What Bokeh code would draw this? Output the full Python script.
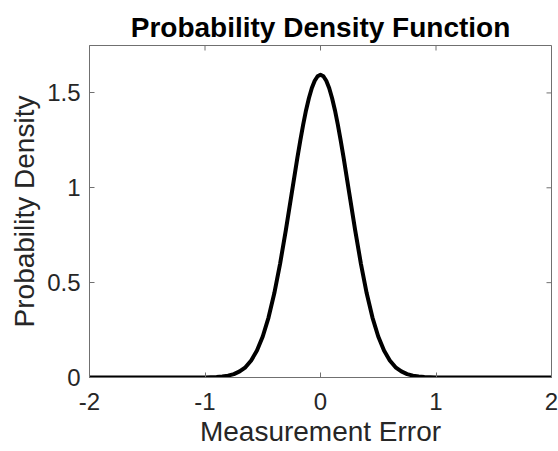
from bokeh.plotting import figure
from bokeh.models import FixedTicker, Range1d
from bokeh.embed import file_html
from bokeh.resources import INLINE

# Data
x_pos = [0.000, 0.025, 0.050, 0.075, 0.100, 0.125, 0.150, 0.175, 0.200, 0.25,
         0.30, 0.35, 0.40, 0.45, 0.50, 0.55, 0.60, 0.65, 0.70, 0.75, 0.80,
         0.85, 0.90, 0.95, 1.00, 1.10, 1.20, 2.00]
y_pos = [1.596, 1.588, 1.564, 1.526, 1.473, 1.409, 1.333, 1.249, 1.159, 0.968,
         0.777, 0.599, 0.444, 0.316, 0.216, 0.142, 0.090, 0.054, 0.032, 0.018,
         0.0095, 0.0049, 0.0025, 0.0012, 0.0005, 0.0001, 0.0, 0.0]

xs = [-v for v in reversed(x_pos[1:])] + x_pos
ys = list(reversed(y_pos[1:])) + y_pos

x_ticks = [-2, -1, 0, 1, 2]
x_tick_labels = ["-2", "-1", "0", "1", "2"]
y_ticks = [0, 0.5, 1, 1.5]
y_tick_labels = ["0", "0.5", "1", "1.5"]

X_MIN, X_MAX = -2, 2
Y_MIN, Y_MAX = 0, 1.75

FONT = "Liberation Sans"
TEXT = "#262626"
AX = "#707070"

p = figure(width=558, height=451, output_backend="svg", toolbar_location=None,
           x_range=Range1d(X_MIN, X_MAX), y_range=Range1d(Y_MIN, Y_MAX),
           min_border_left=89, min_border_right=7, min_border_top=45,
           min_border_bottom=74)

p.line(xs, ys, line_color="black", line_width=4, line_join="round")

# inward ticks on the top and right edges (box on)
tick_px = 5
frame_w = 558 - 89 - 7
frame_h = 451 - 45 - 74
ty = (Y_MAX - Y_MIN) / frame_h * tick_px
tx = (X_MAX - X_MIN) / frame_w * tick_px
p.segment(x0=x_ticks, y0=[Y_MAX] * len(x_ticks), x1=x_ticks,
          y1=[Y_MAX - ty] * len(x_ticks), line_color=AX, line_width=1)
p.segment(x0=[X_MAX] * len(y_ticks), y0=y_ticks, x1=[X_MAX - tx] * len(y_ticks),
          y1=y_ticks, line_color=AX, line_width=1)

p.title.text = "Probability Density Function"
p.title.text_font = FONT
p.title.text_font_size = "28px"
p.title.text_font_style = "bold"
p.title.text_color = "black"
p.title.align = "center"
p.title.standoff = 5

p.grid.visible = False
p.outline_line_color = AX
p.background_fill_color = "white"
p.border_fill_color = "white"

for ax in [p.xaxis[0], p.yaxis[0]]:
    ax.major_tick_in = 5
    ax.major_tick_out = 0
    ax.minor_tick_line_color = None
    ax.axis_line_color = AX
    ax.major_tick_line_color = AX
    ax.major_label_text_font = FONT
    ax.major_label_text_font_size = "24px"
    ax.major_label_text_color = TEXT
    ax.axis_label_text_font = FONT
    ax.axis_label_text_font_size = "28px"
    ax.axis_label_text_font_style = "normal"
    ax.axis_label_text_color = TEXT

p.xaxis[0].ticker = FixedTicker(ticks=x_ticks)
p.yaxis[0].ticker = FixedTicker(ticks=y_ticks)
p.xaxis[0].major_label_overrides = {float(t): s for t, s in zip(x_ticks, x_tick_labels)}
p.yaxis[0].major_label_overrides = {float(t): s for t, s in zip(y_ticks, y_tick_labels)}
p.xaxis[0].axis_label = "Measurement Error"
p.yaxis[0].axis_label = "Probability Density"
p.xaxis[0].major_label_standoff = 15
p.xaxis[0].axis_label_standoff = 3
p.yaxis[0].major_label_standoff = 9
p.yaxis[0].axis_label_standoff = 4

open("out.html", "w").write(file_html(p, INLINE))
